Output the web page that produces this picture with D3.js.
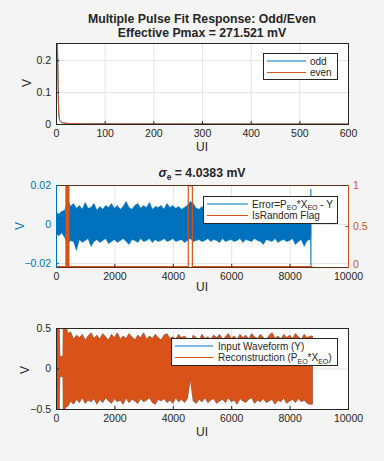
<!DOCTYPE html>
<html lang="en">
<head>
<meta charset="utf-8">
<title>Multiple Pulse Fit Response</title>
<script src="https://d3js.org/d3.v7.min.js"></script>
<style>
  body { margin: 0; background: #f4f4f4; }
  svg { display: block; font-family: "Liberation Sans", Arial, sans-serif; }
</style>
</head>
<body>
<div id="chart"></div>
<script>
// ---- data ----
// top panel: pulse response (UI, volts)
const pulseUI = [0, 1, 2, 3, 4, 5, 6, 7, 8, 10, 12, 16, 20, 30, 50, 100, 200, 300, 400, 500, 600];
const oddV  = [0.003, 0.13, 0.275, 0.245, 0.165, 0.062, 0.027, 0.016, 0.011, 0.007, 0.005, 0.0035, 0.0025, 0.0014, 0.0007, 0.0004, 0.0002, 0.0001, 0, 0, 0];
const evenV = [0.002, 0.12, 0.271, 0.24, 0.16, 0.06, 0.025, 0.015, 0.010, 0.006, 0.004, 0.003, 0.002, 0.0012, 0.0006, 0.0003, 0.0002, 0.0001, 0, 0, 0];

// middle panel: error envelope, one max/min pair per 100 UI from 0 to 8700
const errStep = 100;
const errHi = [0.006, 0.005, 0.0065, 0.007, 0.0125, 0.009, 0.0105, 0.008, 0.0095, 0.0075,
  0.011, 0.008, 0.0085, 0.0105, 0.007, 0.009, 0.0075, 0.0095, 0.0085, 0.0105,
  0.008, 0.0095, 0.0075, 0.009, 0.0115, 0.0085, 0.0075, 0.0095, 0.0105, 0.008,
  0.0095, 0.0085, 0.011, 0.0075, 0.009, 0.0085, 0.0095, 0.0075, 0.0105, 0.0085,
  0.0095, 0.008, 0.009, 0.0075, 0.0085, 0.0095, 0.0115, 0.0105, 0.008, 0.0075,
  0.009, 0.007, 0.0085, 0.0095, 0.0075, 0.008, 0.009, 0.0095, 0.0075, 0.0085,
  0.009, 0.0075, 0.0085, 0.0095, 0.008, 0.0075, 0.009, 0.0085, 0.0095, 0.0075,
  0.0085, 0.009, 0.008, 0.0075, 0.0085, 0.009, 0.0075, 0.0085, 0.008, 0.009,
  0.0075, 0.0085, 0.008, 0.009, 0.0075, 0.0085, 0.008, 0.0075];
const errLo = [-0.005, -0.006, -0.0045, -0.007, -0.0105, -0.0085, -0.009, -0.0135, -0.008, -0.0095,
  -0.0085, -0.0075, -0.0115, -0.009, -0.008, -0.0095, -0.0085, -0.0075, -0.01, -0.009,
  -0.008, -0.0095, -0.0085, -0.0075, -0.009, -0.0105, -0.008, -0.0085, -0.0095, -0.0075,
  -0.009, -0.0085, -0.0075, -0.0095, -0.008, -0.009, -0.0085, -0.0075, -0.009, -0.0085,
  -0.0075, -0.009, -0.0085, -0.008, -0.0095, -0.0085, -0.0075, -0.009, -0.0085, -0.008,
  -0.009, -0.0085, -0.0075, -0.009, -0.008, -0.0085, -0.0095, -0.0075, -0.009, -0.0085,
  -0.008, -0.009, -0.0085, -0.0075, -0.0095, -0.008, -0.0085, -0.009, -0.0075, -0.0085,
  -0.009, -0.0105, -0.008, -0.0085, -0.009, -0.0075, -0.0095, -0.0085, -0.008, -0.009,
  -0.0085, -0.0075, -0.0105, -0.009, -0.008, -0.0115, -0.0085, -0.008];
const errEndUI = [8700, 8720, 8730, 8740];
const errEndHi = [0.0075, 0.004, 0.018, 0.003];
const errEndLo = [-0.008, -0.004, -0.0222, -0.002];

// IsRandom flag (right axis)
const flagUI = [0, 340, 340, 360, 360, 400, 400, 440, 440, 4530, 4530, 4670, 4670, 8780];
const flagV  = [0, 0, 1, 1, 0, 0, 1, 1, 0, 0, 1, 1, 0, 0];

// bottom panel: waveform envelope
const waveLeadUI = [0, 40, 50, 60, 110, 130, 140, 240, 250, 300, 360, 390];
const waveLeadHi = [0.5, 0.5, 0.5, 0.5, 0.5, 0.15, 0.15, 0.15, 0.5, 0.5, 0.5, 0.45];
const waveLeadLo = [0.33, 0.35, -0.5, -0.5, -0.5, -0.1, -0.1, -0.1, -0.5, -0.5, -0.47, -0.45];
const waveStart = 400, waveStep = 100;
const waveHi = [0.43, 0.45, 0.36, 0.41, 0.38, 0.42, 0.35, 0.4, 0.44, 0.37,
  0.41, 0.36, 0.43, 0.39, 0.35, 0.42, 0.38, 0.44, 0.36, 0.4,
  0.37, 0.43, 0.39, 0.35, 0.41, 0.38, 0.44, 0.36, 0.4, 0.37,
  0.42, 0.38, 0.35, 0.41, 0.43, 0.37, 0.39, 0.36, 0.42, 0.38,
  0.4, 0.36, 0.3, 0.41, 0.38, 0.35, 0.42, 0.37, 0.39, 0.36,
  0.41, 0.38, 0.42, 0.36, 0.39, 0.43, 0.37, 0.4, 0.35, 0.42,
  0.38, 0.41, 0.36, 0.43, 0.39, 0.37, 0.42, 0.38, 0.35, 0.41,
  0.44, 0.37, 0.4, 0.36, 0.42, 0.38, 0.41, 0.37, 0.43, 0.39,
  0.36, 0.42, 0.38, 0.4];
const waveLo = [-0.47, -0.4, -0.44, -0.38, -0.42, -0.36, -0.43, -0.39, -0.41, -0.37,
  -0.44, -0.38, -0.42, -0.36, -0.4, -0.43, -0.37, -0.41, -0.39, -0.44,
  -0.36, -0.42, -0.38, -0.4, -0.43, -0.37, -0.41, -0.39, -0.36, -0.42,
  -0.44, -0.38, -0.4, -0.37, -0.42, -0.39, -0.43, -0.36, -0.41, -0.38,
  -0.42, -0.37, -0.12, -0.4, -0.43, -0.38, -0.41, -0.36, -0.42, -0.39,
  -0.37, -0.43, -0.4, -0.38, -0.42, -0.36, -0.41, -0.39, -0.44, -0.37,
  -0.4, -0.42, -0.38, -0.36, -0.43, -0.39, -0.41, -0.37, -0.42, -0.4,
  -0.38, -0.44, -0.39, -0.41, -0.36, -0.43, -0.4, -0.38, -0.42, -0.37,
  -0.41, -0.39, -0.43, -0.44];
const waveEndUI = 8780;

const pulseTicks = [0, 100, 200, 300, 400, 500, 600];
const uiTicks = [0, 2000, 4000, 6000, 8000, 10000];

// ---- drawing ----
const W = 384, H = 461;
const blue = "#0072BD", orange = "#D95319", ink = "#262626", gridCol = "#e3e3e3";
const left = 56, right = 348;
const fmt = d3.format("");
const tickFont = "10.5px";

const svg = d3.select("#chart").append("svg")
  .attr("width", W).attr("height", H)
  .style("background", "#f4f4f4");

// adds a white plot box with grid, ticks and tick labels
function panel(id, top, bottom, xDomain, xTicks, yDomain, yTicks, yColor) {
  const x = d3.scaleLinear().domain(xDomain).range([left, right]);
  const y = d3.scaleLinear().domain(yDomain).range([bottom, top]);
  const g = svg.append("g");
  g.append("rect").attr("x", left).attr("y", top)
    .attr("width", right - left).attr("height", bottom - top).attr("fill", "#fff");
  // grid
  g.selectAll(".gx").data(xTicks).join("line")
    .attr("x1", d => x(d) + 0.5).attr("x2", d => x(d) + 0.5).attr("y1", top).attr("y2", bottom)
    .attr("stroke", gridCol).attr("stroke-width", 1);
  g.selectAll(".gy").data(yTicks).join("line")
    .attr("x1", left).attr("x2", right).attr("y1", d => y(d) + 0.5).attr("y2", d => y(d) + 0.5)
    .attr("stroke", gridCol).attr("stroke-width", 1);
  svg.append("clipPath").attr("id", id)
    .append("rect").attr("x", left).attr("y", top)
    .attr("width", right - left).attr("height", bottom - top);
  const plot = svg.append("g").attr("clip-path", "url(#" + id + ")");
  const axes = svg.append("g");
  // x axis
  const xa = axes.append("g").attr("transform", "translate(0," + bottom + ")")
    .call(d3.axisBottom(x).tickValues(xTicks).tickFormat(fmt).tickSize(-3).tickPadding(6));
  xa.select(".domain").remove();
  xa.selectAll("line").attr("stroke", ink);
  xa.selectAll("text").attr("fill", ink).style("font-size", tickFont);
  // y axis
  const ya = axes.append("g").attr("transform", "translate(" + left + ",0)")
    .call(d3.axisLeft(y).tickValues(yTicks).tickFormat(fmt).tickSize(-3).tickPadding(5));
  ya.select(".domain").remove();
  ya.selectAll("line").attr("stroke", yColor);
  ya.selectAll("text").attr("fill", yColor).style("font-size", tickFont);
  return { x, y, plot, axes, top, bottom };
}

function frame(p, topCol, bottomCol, leftCol, rightCol) {
  const a = p.axes;
  a.append("line").attr("x1", left).attr("x2", right + 1).attr("y1", p.top + 0.5).attr("y2", p.top + 0.5).attr("stroke", topCol);
  a.append("line").attr("x1", left).attr("x2", right + 1).attr("y1", p.bottom + 0.5).attr("y2", p.bottom + 0.5).attr("stroke", bottomCol);
  a.append("line").attr("x1", left + 0.5).attr("x2", left + 0.5).attr("y1", p.top).attr("y2", p.bottom + 1).attr("stroke", leftCol);
  a.append("line").attr("x1", right + 0.5).attr("x2", right + 0.5).attr("y1", p.top).attr("y2", p.bottom + 1).attr("stroke", rightCol);
}

function label(txt, x, y, opts) {
  const t = svg.append("text").attr("x", x).attr("y", y)
    .attr("text-anchor", "middle").attr("fill", (opts && opts.fill) || ink)
    .style("font-size", ((opts && opts.size) || 12) + "px")
    .style("font-weight", (opts && opts.bold) ? "bold" : "normal")
    .text(txt);
  if (opts && opts.rotate) t.attr("transform", "rotate(-90," + x + "," + y + ")");
  return t;
}

// writes pieces into a text node; pieces flagged 1 become subscripts
function richText(t, parts, subSize) {
  let shift = 0;
  parts.forEach(p => {
    const s = t.append("tspan").text(p[0]);
    const want = p[1] ? 2.5 : 0;
    if (want !== shift) { s.attr("dy", want - shift); shift = want; }
    if (p[1]) s.style("font-size", subSize + "px");
  });
}

function legend(x0, y0, w, h, items) {
  const g = svg.append("g");
  g.append("rect").attr("x", x0 + 0.5).attr("y", y0 + 0.5).attr("width", w).attr("height", h)
    .attr("fill", "#fff").attr("stroke", ink).attr("stroke-width", 1);
  items.forEach((it, i) => {
    const cy = y0 + 8 + i * 11.5;
    g.append("line").attr("x1", it.lx1).attr("x2", it.lx2).attr("y1", cy).attr("y2", cy)
      .attr("stroke", it.color).attr("stroke-width", 1.2);
    const t = g.append("text").attr("x", it.tx).attr("y", cy + 3.6)
      .attr("fill", ink).style("font-size", "10px");
    richText(t, it.parts, 7);
  });
}

// ---------- panel 1 ----------
const p1 = panel("c1", 43, 124, [0, 600], pulseTicks, [0, 0.2535], [0, 0.1, 0.2], ink);
const pulseLine = (vals) => d3.line().x((d, i) => p1.x(pulseUI[i])).y(d => p1.y(d))(vals);
p1.plot.append("path").attr("d", pulseLine(oddV)).attr("fill", "none").attr("stroke", blue).attr("stroke-width", 1);
p1.plot.append("path").attr("d", pulseLine(evenV)).attr("fill", "none").attr("stroke", orange).attr("stroke-width", 1);
frame(p1, ink, ink, ink, ink);
label("Multiple Pulse Fit Response: Odd/Even", 202, 23, { bold: true, size: 12.3 });
label("Effective Pmax = 271.521 mV", 202, 37, { bold: true, size: 12.3 });
label("V", 31, 83, { rotate: true });
label("UI", 202, 151);
legend(263, 53, 74, 26, [
  { color: blue, lx1: 267, lx2: 306, tx: 310, parts: [["odd"]] },
  { color: orange, lx1: 267, lx2: 306, tx: 310, parts: [["even"]] }
]);

// ---------- panel 2 ----------
const p2 = panel("c2", 185, 267, [0, 10000], uiTicks, [-0.0221, 0.02], [-0.02, 0, 0.02], blue);
const errUI = errHi.map((d, i) => i * errStep);
const errArea = d3.area().x(d => p2.x(d.u)).y0(d => p2.y(d.lo)).y1(d => p2.y(d.hi));
const errPts = errUI.map((u, i) => ({ u: u, hi: errHi[i], lo: errLo[i] }))
  .concat(errEndUI.map((u, i) => ({ u: u, hi: errEndHi[i], lo: errEndLo[i] })));
p2.plot.append("path").attr("d", errArea(errPts)).attr("fill", blue)
  .attr("stroke", blue).attr("stroke-width", 0.6);
const yR = d3.scaleLinear().domain([0, 1]).range([267, 185]);
p2.plot.append("path")
  .attr("d", d3.line().x((d, i) => p2.x(flagUI[i])).y(d => yR(d) + (d === 1 ? 1 : -0.5))(flagV))
  .attr("fill", "none").attr("stroke", orange).attr("stroke-width", 1.2);
const ra = p2.axes.append("g").attr("transform", "translate(" + right + ",0)")
  .call(d3.axisRight(yR).tickValues([0, 0.5, 1]).tickFormat(fmt).tickSize(-3).tickPadding(5));
ra.select(".domain").remove();
ra.selectAll("line").attr("stroke", orange);
ra.selectAll("text").attr("fill", orange).style("font-size", tickFont)
  .attr("dy", d => d === 0 ? "0.02em" : "0.32em");
frame(p2, "#5a3418", "#5a3418", blue, orange);
const t2 = svg.append("text").attr("x", 202).attr("y", 177).attr("text-anchor", "middle")
  .attr("fill", ink).style("font-size", "12.3px").style("font-weight", "bold");
t2.append("tspan").style("font-style", "italic").text("σ");
t2.append("tspan").attr("dy", 2.5).style("font-size", "8.5px").text("e");
t2.append("tspan").attr("dy", -2.5).text(" = 4.0383 mV");
label("V", 24, 226, { rotate: true, fill: blue });
label("UI", 202, 291);
legend(203, 196, 134, 27, [
  { color: blue, lx1: 207, lx2: 248, tx: 252, parts: [["Error=P"], ["EO", 1], ["*X"], ["EO", 1], [" - Y"]] },
  { color: orange, lx1: 207, lx2: 248, tx: 252, parts: [["IsRandom Flag"]] }
]);

// ---------- panel 3 ----------
const p3 = panel("c3", 328, 409, [0, 10000], uiTicks, [-0.5, 0.5], [-0.5, 0, 0.5], ink);
const wavePts = waveLeadUI.map((u, i) => ({ u: u, hi: waveLeadHi[i], lo: waveLeadLo[i] }))
  .concat(waveHi.map((h, i) => ({ u: waveStart + i * waveStep, hi: h, lo: waveLo[i] })))
  .concat([{ u: waveEndUI, hi: waveHi[waveHi.length - 1], lo: waveLo[waveLo.length - 1] }]);
const waveArea = d3.area().x(d => p3.x(d.u)).y0(d => p3.y(d.lo)).y1(d => p3.y(d.hi));
// input waveform sits underneath the reconstruction
p3.plot.append("path").attr("d", waveArea(wavePts)).attr("fill", blue).attr("stroke", blue).attr("stroke-width", 0.5);
p3.plot.append("path").attr("d", waveArea(wavePts)).attr("fill", orange).attr("stroke", orange).attr("stroke-width", 0.6);
frame(p3, ink, ink, ink, ink);
label("V", 29, 370, { rotate: true });
label("UI", 202, 436);
legend(171, 338, 166, 27, [
  { color: blue, lx1: 175, lx2: 213, tx: 218, parts: [["Input Waveform (Y)"]] },
  { color: orange, lx1: 175, lx2: 213, tx: 218, parts: [["Reconstruction (P"], ["EO", 1], ["*X"], ["EO", 1], [")"]] }
]);
</script>
</body>
</html>
